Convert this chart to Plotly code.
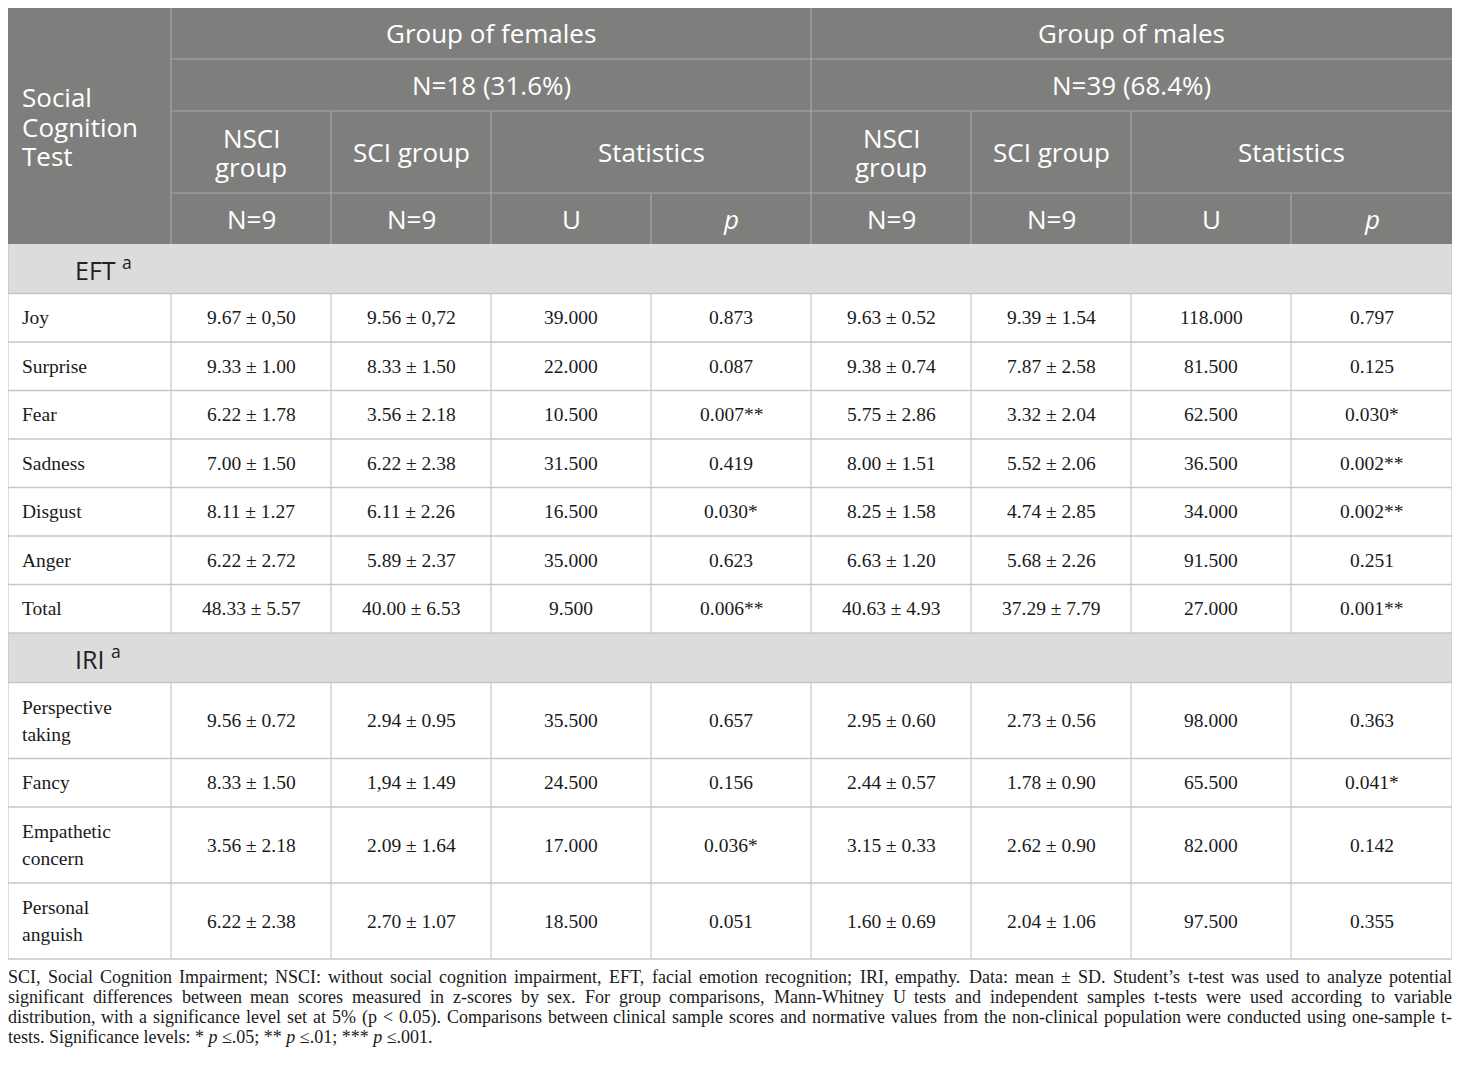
import plotly.graph_objects as go

# ---- table content ----
header_groups = ["Group of females", "Group of males"]
header_sizes = ["N=18 (31.6%)", "N=39 (68.4%)"]
header_sub = ["NSCI<br>group", "SCI group", "Statistics"]
header_n = ["N=9", "N=9", "U", "<i>p</i>"]
corner_label = "Social<br>Cognition<br>Test"

sections = ["EFT <sup>a</sup>", "IRI <sup>a</sup>"]
eft_labels = ["Joy", "Surprise", "Fear", "Sadness", "Disgust", "Anger", "Total"]
iri_labels = ["Perspective<br>taking", "Fancy", "Empathetic<br>concern", "Personal<br>anguish"]

fem_nsci = ["9.67 ± 0,50", "9.33 ± 1.00", "6.22 ± 1.78", "7.00 ± 1.50", "8.11 ± 1.27", "6.22 ± 2.72",
            "48.33 ± 5.57", "9.56 ± 0.72", "8.33 ± 1.50", "3.56 ± 2.18", "6.22 ± 2.38"]
fem_sci = ["9.56 ± 0,72", "8.33 ± 1.50", "3.56 ± 2.18", "6.22 ± 2.38", "6.11 ± 2.26", "5.89 ± 2.37",
           "40.00 ± 6.53", "2.94 ± 0.95", "1,94 ± 1.49", "2.09 ± 1.64", "2.70 ± 1.07"]
fem_u = ["39.000", "22.000", "10.500", "31.500", "16.500", "35.000", "9.500",
         "35.500", "24.500", "17.000", "18.500"]
fem_p = ["0.873", "0.087", "0.007**", "0.419", "0.030*", "0.623", "0.006**",
         "0.657", "0.156", "0.036*", "0.051"]
male_nsci = ["9.63 ± 0.52", "9.38 ± 0.74", "5.75 ± 2.86", "8.00 ± 1.51", "8.25 ± 1.58", "6.63 ± 1.20",
             "40.63 ± 4.93", "2.95 ± 0.60", "2.44 ± 0.57", "3.15 ± 0.33", "1.60 ± 0.69"]
male_sci = ["9.39 ± 1.54", "7.87 ± 2.58", "3.32 ± 2.04", "5.52 ± 2.06", "4.74 ± 2.85", "5.68 ± 2.26",
            "37.29 ± 7.79", "2.73 ± 0.56", "1.78 ± 0.90", "2.62 ± 0.90", "2.04 ± 1.06"]
male_u = ["118.000", "81.500", "62.500", "36.500", "34.000", "91.500", "27.000",
          "98.000", "65.500", "82.000", "97.500"]
male_p = ["0.797", "0.125", "0.030*", "0.002**", "0.002**", "0.251", "0.001**",
          "0.363", "0.041*", "0.142", "0.355"]

footnote = [
    "SCI, Social Cognition Impairment; NSCI: without social cognition impairment, EFT, facial emotion recognition; "
    "IRI, empathy. Data: mean ± SD. Student’s t-test was used to analyze potential",
    "significant differences between mean scores measured in z-scores by sex. For group comparisons, "
    "Mann-Whitney U tests and independent samples t-tests were used according to variable",
    "distribution, with a significance level set at 5% (p < 0.05). Comparisons between clinical sample scores "
    "and normative values from the non-clinical population were conducted using one-sample t-",
    "tests. Significance levels: * <i>p</i> ≤.05; ** <i>p</i> ≤.01; *** <i>p</i> ≤.001.",
]

# ---- layout geometry (page pixels; the page body has an 8px margin) ----
W, H = 1460, 1070
PAGE_MARGIN = 8
x0 = 8
col_w = [163, 160, 160, 160, 160, 160, 160, 160, 161]
xs = [x0]
for w in col_w:
    xs.append(xs[-1] + w)
top = 7
head_h = [52, 52, 82, 51]
ys = [top]
for h in head_h:
    ys.append(ys[-1] + h)
sec_h = 49.5
row1_h = 48.5
row2_h = 76

HEAD_BG = "#7e7f7d"
HEAD_LINE = "#a7a8a6"
SEC_BG = "#dcdcdc"
GRID = "#c6c6c6"
SANS = "Open Sans"
SERIF = "Liberation Serif"

shapes = []
annotations = []


def rect(xa, xb, ya, yb, fill):
    shapes.append(dict(type="rect", xref="x", yref="y", x0=xa, x1=xb, y0=ya, y1=yb,
                       fillcolor=fill, line=dict(width=0), layer="below"))


def line(xa, xb, ya, yb, color, width=1.2):
    shapes.append(dict(type="line", xref="x", yref="y", x0=xa, x1=xb, y0=ya, y1=yb,
                       line=dict(color=color, width=width)))


def text(s, x, y, size, family, color, anchor="center", spacing=None, xshift=0):
    parts = s.split("<br>")
    if spacing is None:
        spacing = size * 1.3
    start = y - spacing * (len(parts) - 1) / 2
    for i, p in enumerate(parts):
        annotations.append(dict(text=p, x=x, y=start + i * spacing, xref="x", yref="y",
                                showarrow=False, xanchor=anchor, yanchor="middle", xshift=xshift,
                                font=dict(family=family, size=size, color=color)))


def mid(a, b):
    return (a + b) / 2


# Times metrics (Liberation Serif is metric compatible), per 1000 em
TW = {" ": 250, ",": 250, ".": 250, ";": 278, ":": 278, "(": 333, ")": 333, "-": 333, "%": 833,
      "<": 564, "±": 564, "’": 333, "*": 500, "≤": 549,
      "A": 722, "B": 667, "C": 667, "D": 722, "E": 611, "F": 556, "G": 722, "H": 722, "I": 333,
      "J": 389, "K": 722, "L": 611, "M": 889, "N": 722, "O": 722, "P": 556, "Q": 722, "R": 667,
      "S": 556, "T": 611, "U": 722, "V": 722, "W": 944, "X": 722, "Y": 722, "Z": 611,
      "a": 444, "b": 500, "c": 444, "d": 500, "e": 444, "f": 333, "g": 500, "h": 500, "i": 278,
      "j": 278, "k": 500, "l": 278, "m": 778, "n": 500, "o": 500, "p": 500, "q": 500, "r": 333,
      "s": 389, "t": 278, "u": 500, "v": 500, "w": 722, "x": 500, "y": 500, "z": 444}


def tw(s, size):
    return sum(TW.get(ch, 500) for ch in s) * size / 1000


# header block
rect(xs[0], xs[-1], ys[0], ys[4], HEAD_BG)
HS = 26
text(corner_label, xs[0] + 12, mid(ys[0], ys[4]) + 1, HS, SANS, "white", "left", 29.5)
for g in range(2):
    a, b = xs[1 + 4 * g], xs[5 + 4 * g]
    text(header_groups[g], mid(a, b), mid(ys[0], ys[1]), HS, SANS, "white")
    text(header_sizes[g], mid(a, b), mid(ys[1], ys[2]), HS, SANS, "white")
    c = 1 + 4 * g
    text(header_sub[0], mid(xs[c], xs[c + 1]), mid(ys[2], ys[3]), HS, SANS, "white", spacing=29)
    text(header_sub[1], mid(xs[c + 1], xs[c + 2]), mid(ys[2], ys[3]), HS, SANS, "white")
    text(header_sub[2], mid(xs[c + 2], xs[c + 4]), mid(ys[2], ys[3]), HS, SANS, "white")
    for k in range(4):
        text(header_n[k], mid(xs[c + k], xs[c + k + 1]), mid(ys[3], ys[4]), HS, SANS, "white")

# header grid lines
for j in range(1, 4):
    line(xs[1], xs[-1], ys[j], ys[j], HEAD_LINE)
line(xs[1], xs[1], ys[0], ys[4], HEAD_LINE)
line(xs[5], xs[5], ys[0], ys[4], HEAD_LINE)
for c in (2, 3, 6, 7):
    line(xs[c], xs[c], ys[2], ys[4], HEAD_LINE)
for c in (4, 8):
    line(xs[c], xs[c], ys[3], ys[4], HEAD_LINE)

# body
columns = [fem_nsci, fem_sci, fem_u, fem_p, male_nsci, male_sci, male_u, male_p]
BS = 19.5
y = ys[4]
idx = 0
for s, labels in zip(sections, [eft_labels, iri_labels]):
    rect(xs[0], xs[-1], y, y + sec_h, SEC_BG)
    text(s, 73, mid(y, y + sec_h), 25, SANS, "#222222", "left")
    y += sec_h
    line(xs[0], xs[-1], y, y, GRID, 1.5)
    for lab in labels:
        h = row2_h if "<br>" in lab else row1_h
        text(lab, xs[0] + 12, mid(y, y + h), BS, SERIF, "#1a1a1a", "left", 27)
        for k, col in enumerate(columns):
            text(col[idx], mid(xs[k + 1], xs[k + 2]), mid(y, y + h), BS, SERIF, "#1a1a1a")
        for c in range(1, len(xs) - 1):
            line(xs[c], xs[c], y, y + h, GRID)
        y += h
        line(xs[0], xs[-1], y, y, GRID, 1.5)
        idx += 1
line(xs[0], xs[0], ys[4], y, GRID)
line(xs[-1], xs[-1], ys[4], y, GRID)

# footnote: first three lines justified to the table width, last one left aligned
FS = 18
for i, ln in enumerate(footnote):
    yy = 977 + 20 * i
    if i == len(footnote) - 1:
        text(ln, x0 + 1, yy, FS, SERIF, "#1a1a1a", "left", xshift=-3)
        continue
    words = ln.split(" ")
    nat = sum(tw(w, FS) for w in words)
    gap = (xs[-1] - x0 - nat) / (len(words) - 1)
    xx = x0
    for w in words:
        text(w, xx + 1, yy, FS, SERIF, "#1a1a1a", "left", xshift=-3)
        xx += tw(w, FS) + gap

fig = go.Figure()
fig.update_layout(
    width=W - 2 * PAGE_MARGIN, height=H - 2 * PAGE_MARGIN,
    margin=dict(l=0, r=0, t=0, b=0),
    paper_bgcolor="white", plot_bgcolor="white",
    xaxis=dict(range=[PAGE_MARGIN, W - PAGE_MARGIN], visible=False, fixedrange=True),
    yaxis=dict(range=[H - PAGE_MARGIN, PAGE_MARGIN], visible=False, fixedrange=True),
    shapes=shapes, annotations=annotations, showlegend=False,
)
fig.write_html("out.html", config={"displayModeBar": False})
